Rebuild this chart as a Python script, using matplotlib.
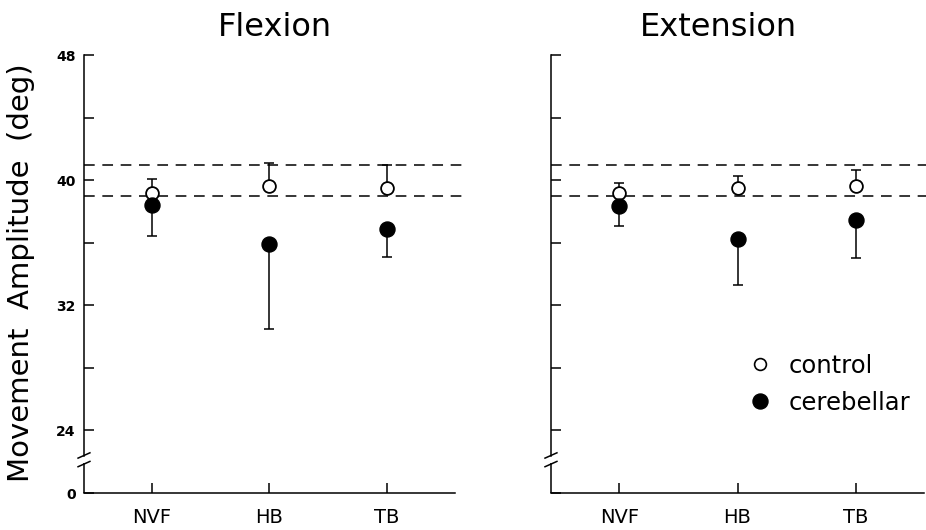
import matplotlib
matplotlib.use("Agg")
import matplotlib.pyplot as plt
from matplotlib.lines import Line2D

categories = ["NVF", "HB", "TB"]

flex_control = [39.2, 39.6, 39.5]
flex_control_err = [0.85, 1.5, 1.5]
flex_cereb = [38.4, 35.9, 36.9]
flex_cereb_err = [2.0, 5.4, 1.8]

ext_control = [39.15, 39.5, 39.65]
ext_control_err = [0.65, 0.75, 1.0]
ext_cereb = [38.35, 36.25, 37.45]
ext_cereb_err = [1.25, 2.95, 2.4]

control_band = [39.0, 41.0]

yticks = [20, 24, 28, 32, 36, 40, 44, 48]
ytick_labels = ["0", "24", "", "32", "", "40", "", "48"]

LW = 1.1


def draw_panel(ax, control, control_err, cereb, cereb_err, show_labels):
    x = list(range(1, len(categories) + 1))
    ax.set_xlim(0.42, 3.58)
    ax.set_ylim(20, 48)

    # dashed band from control group
    for y in control_band:
        ax.plot([0.42, 3.64], [y, y], color="black", lw=LW, ls=(0, (7, 5)),
                clip_on=False, zorder=1)

    zeros = [0] * len(x)
    ax.errorbar(x, control, yerr=[zeros, control_err], fmt="none",
                ecolor="black", elinewidth=LW, capsize=3.8, capthick=LW, zorder=2)
    ax.errorbar(x, cereb, yerr=[cereb_err, zeros], fmt="none",
                ecolor="black", elinewidth=LW, capsize=3.8, capthick=LW, zorder=2)
    ax.plot(x, control, "o", ms=9.2, mfc="white", mec="black", mew=1.3,
            ls="none", zorder=3)
    ax.plot(x, cereb, "o", ms=10.8, color="black", ls="none", zorder=4)

    ax.set_xticks(x)
    ax.set_xticklabels(categories, fontsize=14)
    ax.set_yticks(yticks)
    if show_labels:
        ax.set_yticklabels(ytick_labels, fontsize=10, fontweight="bold")
    else:
        ax.set_yticklabels([])
    ax.tick_params(direction="in", length=7, width=LW)
    ax.tick_params(axis="x", pad=11)
    ax.tick_params(axis="y", pad=6)

    for side in ("top", "right"):
        ax.spines[side].set_visible(False)
    ax.spines["bottom"].set_linewidth(LW)
    ax.spines["left"].set_linewidth(LW)
    ax.spines["left"].set_bounds(22.35, 48)

    # axis break
    tr = ax.get_yaxis_transform()
    ax.plot([0, 0], [20, 21.9], color="black", lw=LW, transform=tr,
            clip_on=False, solid_capstyle="butt")
    for yb in (21.85, 22.4):
        ax.plot([-0.016, 0.016], [yb - 0.17, yb + 0.17], color="black",
                lw=LW, transform=tr, clip_on=False)


fig = plt.figure(figsize=(9.26, 5.3), dpi=100)
ax1 = fig.add_axes([0.0907, 0.0698, 0.4006, 0.8264])
ax2 = fig.add_axes([0.595, 0.0698, 0.403, 0.8264])

draw_panel(ax1, flex_control, flex_control_err, flex_cereb, flex_cereb_err, True)
draw_panel(ax2, ext_control, ext_control_err, ext_cereb, ext_cereb_err, False)

fig.text(275 / 926, 1 - 36 / 530, "Flexion", fontsize=23, ha="center",
         va="baseline")
fig.text(718 / 926, 1 - 36 / 530, "Extension", fontsize=23, ha="center",
         va="baseline")
fig.text(21 / 926, 1 - 273 / 530, "Movement  Amplitude  (deg)", fontsize=21,
         rotation=90, ha="center", va="center")

handles = [
    Line2D([], [], marker="o", ls="none", ms=8.5, mfc="white", mec="black",
           mew=1.2),
    Line2D([], [], marker="o", ls="none", ms=10.8, color="black"),
]
ax2.legend(handles, ["control", "cerebellar"], frameon=False, fontsize=17.5,
           loc="upper left", bbox_to_anchor=(750 / 926, 1 - 354 / 530),
           bbox_transform=fig.transFigure, handlelength=0.8,
           handletextpad=0.8, labelspacing=0.52, borderaxespad=0,
           borderpad=0)

fig.savefig("out.png", dpi=100)
